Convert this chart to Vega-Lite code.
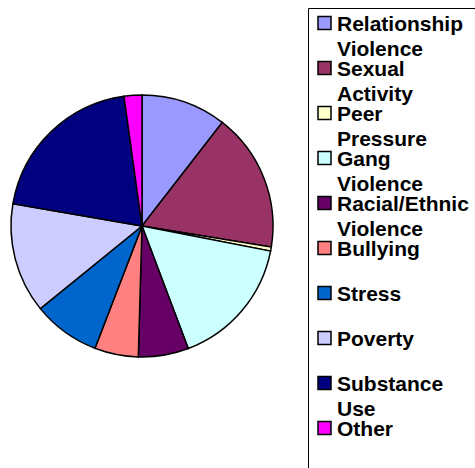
{
  "$schema": "https://vega.github.io/schema/vega-lite/v6.json",
  "width": 284,
  "height": 452,
  "autosize": "none",
  "padding": {"left": 0, "top": 0, "right": 191, "bottom": 16},
  "background": "white",
  "config": {"style": {"guide-label": {"lineHeight": 25}}},
  "data": {
    "values": [
      {"cause": "Relationship Violence", "pct": 10.5, "idx": 1},
      {"cause": "Sexual Activity", "pct": 17.1, "idx": 2},
      {"cause": "Peer Pressure", "pct": 0.5, "idx": 3},
      {"cause": "Gang Violence", "pct": 16.2, "idx": 4},
      {"cause": "Racial/Ethnic Violence", "pct": 6.2, "idx": 5},
      {"cause": "Bullying", "pct": 5.4, "idx": 6},
      {"cause": "Stress", "pct": 8.3, "idx": 7},
      {"cause": "Poverty", "pct": 13.6, "idx": 8},
      {"cause": "Substance Use", "pct": 20.1, "idx": 9},
      {"cause": "Other", "pct": 2.2, "idx": 10}
    ]
  },
  "mark": {"type": "arc", "outerRadius": 131, "stroke": "black", "strokeWidth": 1.5},
  "encoding": {
    "theta": {"field": "pct", "type": "quantitative", "stack": true},
    "order": {"field": "idx", "type": "quantitative"},
    "color": {
      "field": "cause",
      "type": "nominal",
      "sort": null,
      "scale": {
        "domain": ["Relationship Violence", "Sexual Activity", "Peer Pressure", "Gang Violence", "Racial/Ethnic Violence", "Bullying", "Stress", "Poverty", "Substance Use", "Other"],
        "range": ["#9999FF", "#993366", "#FFFFCC", "#CCFFFF", "#660066", "#FF8080", "#0066CC", "#CCCCFF", "#000080", "#FF00FF"]
      },
      "legend": {
        "title": " ",
        "titleFontSize": 1,
        "titlePadding": 5,
        "orient": "none",
        "legendX": 308,
        "legendY": 8,
        "padding": 6,
        "strokeColor": "black",
        "symbolType": "M-1,-2.15H1V-0.15H-1Z",
        "symbolSize": 169,
        "symbolStrokeColor": "black",
        "symbolStrokeWidth": 1.5,
        "symbolOpacity": 1,
        "labelFont": "Liberation Sans",
        "labelFontWeight": "bold",
        "labelFontSize": 21,
        "labelColor": "black",
        "labelBaseline": "alphabetic",
        "labelOffset": 2,
        "labelLimit": 300,
        "rowPadding": -2,
        "labelExpr": "indexof(datum.label, ' ') > 0 ? split(datum.label, ' ') : [datum.label, ' ']"
      }
    }
  }
}
